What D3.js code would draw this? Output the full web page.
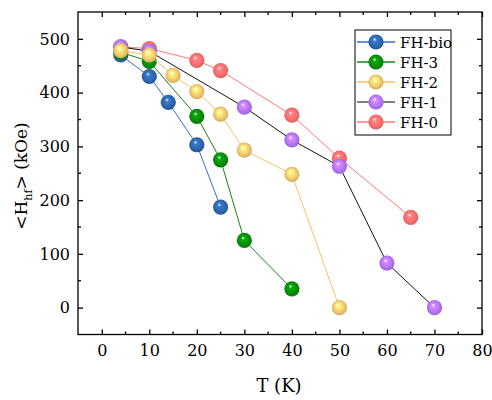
<!DOCTYPE html>
<html><head><meta charset="utf-8">
<script src="https://cdn.jsdelivr.net/npm/d3@7"></script>
<style>body{margin:0;background:#fff}svg{display:block}</style>
</head><body><svg id="c" width="492" height="400"></svg>
<script>
const seriesNames = ["FH-bio","FH-3","FH-2","FH-1","FH-0"];
const tBio = [4,10,14,20,25];
const hBio = [470,430,382,303,187];
const t3 = [4,10,20,25,30,40];
const h3 = [475,458,356,275,125,35];
const t2 = [4,10,15,20,25,30,40,50];
const h2 = [478,470,432,402,360,293,248,0];
const t1 = [4,10,30,40,50,60,70];
const h1 = [485,477,373,312,263,83,0];
const t0 = [4,10,20,25,40,50,65];
const h0 = [485,482,460,441,358,278,168];
const xTicks = [0,10,20,30,40,50,60,70,80];
const yTicks = [0,100,200,300,400,500];

const FONT = "'DejaVu Serif', 'Liberation Serif', 'Noto Serif', Tinos, serif";
const styles = {
 "FH-bio":{ball:"#2E63A8",line:"#3A6FB8"},
 "FH-3":{ball:"#0A8A0A",line:"#118811"},
 "FH-2":{ball:"#EDC46A",line:"#F2C468"},
 "FH-1":{ball:"#B072F2",line:"#111111"},
 "FH-0":{ball:"#F86B6B",line:"#FF7777"}
};
const data = {
 "FH-bio":tBio.map((t,i)=>[t,hBio[i]]),
 "FH-3":t3.map((t,i)=>[t,h3[i]]),
 "FH-2":t2.map((t,i)=>[t,h2[i]]),
 "FH-1":t1.map((t,i)=>[t,h1[i]]),
 "FH-0":t0.map((t,i)=>[t,h0[i]])
};
const drawOrder = ["FH-0","FH-1","FH-bio","FH-3","FH-2"];

const svg = d3.select("#c");
const L=78,R=482,T=12,B=334.5;
const x = d3.scaleLinear().domain([-5,80]).range([L,R]);
const y = d3.scaleLinear().domain([-50,550]).range([B,T]);

const defs = svg.append("defs");
seriesNames.forEach((n,i)=>{
  const c = d3.color(styles[n].ball);
  const g = defs.append("radialGradient").attr("id","g"+i)
    .attr("cx","50%").attr("cy","50%").attr("r","55%").attr("fx","40%").attr("fy","32%");
  g.append("stop").attr("offset","0%").attr("stop-color","#ffffff");
  g.append("stop").attr("offset","22%").attr("stop-color",c.brighter(0.6));
  g.append("stop").attr("offset","70%").attr("stop-color",c);
  g.append("stop").attr("offset","100%").attr("stop-color",c.darker(0.5));
});

// axes
const ax = svg.append("g").attr("stroke","#000").attr("stroke-width",1.3);
svg.append("g").attr("transform",`translate(0,${B})`)
  .call(d3.axisBottom(x).tickValues(xTicks).tickSize(-5).tickPadding(10).tickFormat(d3.format("d")))
  .call(g=>{g.select(".domain").remove();g.selectAll("text").attr("font-size",16).attr("fill","#000");g.selectAll("line").attr("stroke-width",1.3);});
svg.append("g").attr("transform",`translate(${L},0)`)
  .call(d3.axisLeft(y).tickValues(yTicks).tickSize(-5).tickPadding(8).tickFormat(d3.format("d")))
  .call(g=>{g.select(".domain").remove();g.selectAll("text").attr("font-size",16).attr("fill","#000");g.selectAll("line").attr("stroke-width",1.3);});
svg.append("g").attr("transform",`translate(0,${T})`)
  .call(d3.axisTop(x).tickValues(xTicks).tickSize(-5).tickFormat(""))
  .call(g=>{g.select(".domain").remove();g.selectAll("line").attr("stroke-width",1.3);});
svg.append("g").attr("transform",`translate(${R},0)`)
  .call(d3.axisRight(y).tickValues(yTicks).tickSize(-5).tickFormat(""))
  .call(g=>{g.select(".domain").remove();g.selectAll("line").attr("stroke-width",1.3);});
// minor ticks
const xMinor = d3.range(-5,81,5).filter(v=>!xTicks.includes(v) && v>-5 && v<80);
const yMinor = d3.range(-50,551,50).filter(v=>!yTicks.includes(v) && v>-50 && v<550);
xMinor.forEach(v=>{
  ax.append("line").attr("x1",x(v)).attr("x2",x(v)).attr("y1",B).attr("y2",B-3);
  ax.append("line").attr("x1",x(v)).attr("x2",x(v)).attr("y1",T).attr("y2",T+3);
});
yMinor.forEach(v=>{
  ax.append("line").attr("y1",y(v)).attr("y2",y(v)).attr("x1",L).attr("x2",L+3);
  ax.append("line").attr("y1",y(v)).attr("y2",y(v)).attr("x1",R).attr("x2",R-3);
});
ax.append("rect").attr("x",L).attr("y",T).attr("width",R-L).attr("height",B-T).attr("fill","none");

// series
const line = d3.line().x(d=>x(d[0])).y(d=>y(d[1]));
drawOrder.forEach(n=>{
  const i = seriesNames.indexOf(n);
  const g = svg.append("g");
  g.append("path").attr("d",line(data[n])).attr("fill","none").attr("stroke",styles[n].line).attr("stroke-width",1);
  g.selectAll("circle").data(data[n]).join("circle")
    .attr("cx",d=>x(d[0])).attr("cy",d=>y(d[1])).attr("r",7.6).attr("fill",`url(#g${i})`);
});

// legend
const lg = svg.append("g");
lg.append("rect").attr("x",355).attr("y",30).attr("width",96).attr("height",105).attr("fill","#fff").attr("stroke","#000").attr("stroke-width",1);
seriesNames.forEach((n,i)=>{
  const yy = 42+i*20;
  lg.append("line").attr("x1",357).attr("x2",395).attr("y1",yy).attr("y2",yy).attr("stroke",n==="FH-1"?"#555":styles[n].line).attr("stroke-width",1.3);
  lg.append("circle").attr("cx",376).attr("cy",yy).attr("r",7.6).attr("fill",`url(#g${i})`);
  lg.append("text").attr("x",400).attr("y",yy+5.5).attr("font-size",15).text(n);
});

// axis titles
svg.append("text").attr("x",279).attr("y",392).attr("text-anchor","middle").attr("font-size",18).text("T (K)");
const yl = svg.append("text").attr("transform","translate(27,176) rotate(-90)").attr("text-anchor","middle").attr("font-size",17);
yl.append("tspan").text("<H");
yl.append("tspan").attr("font-size",11).attr("dy",5).text("hf");
yl.append("tspan").attr("dy",-5).text("> (kOe)");

svg.selectAll("g").attr("font-family",null);
svg.selectAll("text").attr("font-family",FONT).style("font-family",FONT);
</script></body></html>
